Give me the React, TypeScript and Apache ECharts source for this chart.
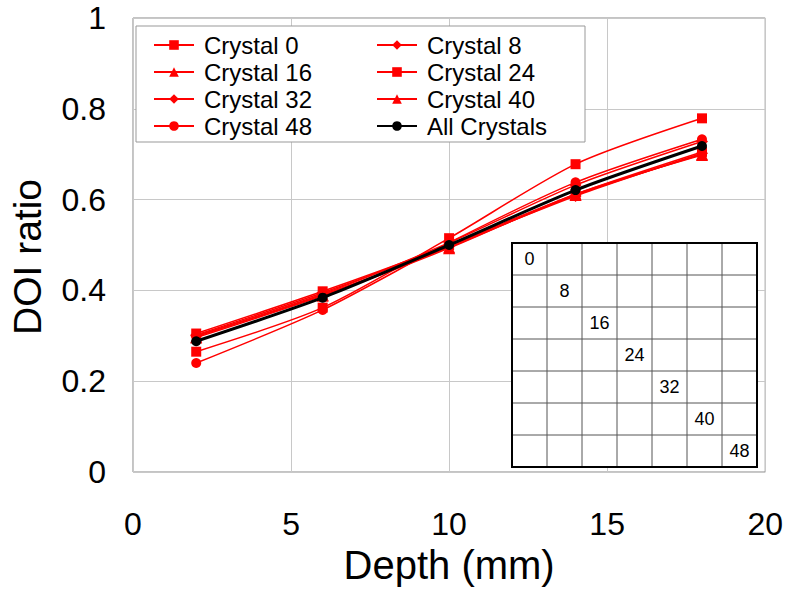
import React, { useEffect, useRef } from "react";
import * as echarts from "echarts";

const depths = [2, 6, 10, 14, 18];
const seriesNames = [
  "Crystal 0",
  "Crystal 8",
  "Crystal 16",
  "Crystal 24",
  "Crystal 32",
  "Crystal 40",
  "Crystal 48",
  "All Crystals",
];
const crystal0 = [0.265, 0.362, 0.515, 0.678, 0.779];
const crystal8 = [0.3, 0.392, 0.505, 0.632, 0.728];
const crystal16 = [0.298, 0.39, 0.495, 0.61, 0.7];
const crystal24 = [0.305, 0.398, 0.5, 0.612, 0.705];
const crystal32 = [0.302, 0.395, 0.498, 0.608, 0.702];
const crystal40 = [0.296, 0.388, 0.493, 0.612, 0.698];
const crystal48 = [0.24, 0.357, 0.505, 0.638, 0.733];
const allCrystals = [0.288, 0.384, 0.5, 0.621, 0.718];
const symbols = ["rect", "diamond", "triangle", "rect", "diamond", "triangle", "circle", "circle"];
const insetLabels = ["0", "8", "16", "24", "32", "40", "48"];

const FONT = "'Liberation Sans', Arial, sans-serif";

export default function App() {
  const ref = useRef<HTMLDivElement>(null);
  useEffect(() => {
    if (!ref.current) return;
    const chart = echarts.init(ref.current, undefined, { renderer: "svg" });
    const values = [crystal0, crystal8, crystal16, crystal24, crystal32, crystal40, crystal48, allCrystals];
    const series = seriesNames.map((name, i) => {
      const isAll = i === 7;
      const sym = symbols[i];
      const size = sym === "triangle" ? 12 : sym === "diamond" ? 12 : 10;
      return {
        name,
        type: "line",
        data: depths.map((d, k) => [d, values[i][k]]),
        symbol: sym,
        symbolSize: size,
        smooth: 0.25,
        z: isAll ? 4 : 3,
        lineStyle: { color: isAll ? "#000000" : "#ff0000", width: isAll ? 3 : 1.5 },
        itemStyle: { color: isAll ? "#000000" : "#ff0000" },
      };
    });

    const cellW = 35;
    const cellH = 32;
    const ix = 512;
    const iy = 243;
    const n = 7;
    const insetEls: any[] = [];
    insetEls.push({
      type: "rect",
      z: 3,
      shape: { x: ix, y: iy, width: cellW * n, height: cellH * n },
      style: { fill: "#ffffff", stroke: "none" },
    });
    for (let k = 1; k < n; k++) {
      insetEls.push({
        type: "line",
        z: 3,
        shape: { x1: ix + k * cellW, y1: iy, x2: ix + k * cellW, y2: iy + n * cellH },
        style: { stroke: "#555555", lineWidth: 1 },
      });
      insetEls.push({
        type: "line",
        z: 3,
        shape: { x1: ix, y1: iy + k * cellH, x2: ix + n * cellW, y2: iy + k * cellH },
        style: { stroke: "#555555", lineWidth: 1 },
      });
    }
    insetEls.push({
      type: "rect",
      z: 3,
      shape: { x: ix, y: iy, width: cellW * n, height: cellH * n },
      style: { fill: "none", stroke: "#000000", lineWidth: 2 },
    });
    insetLabels.forEach((t, k) => {
      insetEls.push({
        type: "text",
        z: 3,
        x: ix + k * cellW + cellW / 2,
        y: iy + k * cellH + cellH / 2,
        style: {
          text: t,
          font: `18px ${FONT}`,
          fill: "#000000",
          textAlign: "center",
          textVerticalAlign: "middle",
        },
      });
    });

    const legendCommon = {
      orient: "vertical",
      padding: 0,
      itemWidth: 40,
      itemHeight: 12,
      itemGap: 3,
      textStyle: {
        fontFamily: FONT,
        fontSize: 24,
        lineHeight: 24,
        color: "#000000",
        padding: [0, 0, 0, 5],
      },
    };

    chart.setOption({
      animation: false,
      backgroundColor: "#ffffff",
      grid: {
        left: 131,
        right: 19,
        top: 18,
        bottom: 120,
        show: true,
        borderColor: "#888888",
        borderWidth: 1,
      },
      xAxis: {
        type: "value",
        min: 0,
        max: 20,
        interval: 5,
        name: "Depth (mm)",
        nameLocation: "middle",
        nameGap: 64,
        nameTextStyle: { fontFamily: FONT, fontSize: 40, color: "#000000" },
        axisLine: { show: false },
        axisTick: { show: false },
        axisLabel: { fontFamily: FONT, fontSize: 32, color: "#000000", margin: 36 },
        splitLine: { show: true, lineStyle: { color: "#c8c8c8", width: 1 } },
      },
      yAxis: {
        type: "value",
        min: 0,
        max: 1,
        interval: 0.2,
        name: "DOI ratio",
        nameLocation: "middle",
        nameGap: 86,
        nameTextStyle: { fontFamily: FONT, fontSize: 39, color: "#000000", padding: [0, 24, 0, 0] },
        axisLine: { show: false },
        axisTick: { show: false },
        axisLabel: { fontFamily: FONT, fontSize: 32, color: "#000000", margin: 27 },
        splitLine: { show: true, lineStyle: { color: "#c8c8c8", width: 1 } },
      },
      legend: [
        { ...legendCommon, left: 153, top: 33, data: ["Crystal 0", "Crystal 16", "Crystal 32", "Crystal 48"] },
        { ...legendCommon, left: 376, top: 33, data: ["Crystal 8", "Crystal 24", "Crystal 40", "All Crystals"] },
      ],
      graphic: [
        {
          type: "rect",
          z: 3,
          shape: { x: 136, y: 26, width: 449, height: 116 },
          style: { fill: "#ffffff", stroke: "#999999", lineWidth: 1 },
        },
        ...insetEls,
      ],
      series,
    });
    return () => chart.dispose();
  }, []);
  return (
    <div
      ref={ref}
      style={{ position: "absolute", left: 0, top: 0, width: 786, height: 592 }}
    />
  );
}
